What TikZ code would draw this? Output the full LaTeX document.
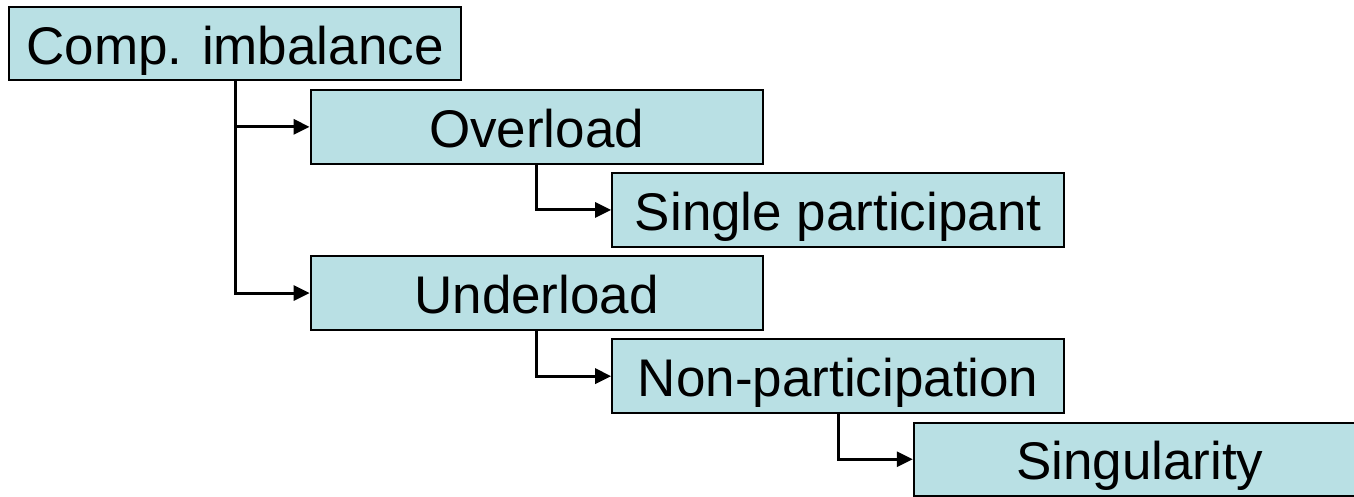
\documentclass[tikz,border=0pt]{standalone}
\usepackage{fontspec}
\setmainfont{Liberation Sans}
\usetikzlibrary{positioning,arrows.meta}
\definecolor{boxfill}{RGB}{185,224,228}
\tikzset{every node/.style={shape=rectangle,draw = black,line width=1pt,fill=boxfill,
  minimum width=226pt,minimum height=36.75pt,inner sep=0pt,
  font=\fontsize{26.5}{30}\selectfont,text height=24pt,text depth=3.5pt}}
\tikzset{every edge/.style={draw = black, line width=1.5pt,
  -{Triangle[length=8pt,width=7.5pt]}, to path={|- (\tikztotarget)}}}

\begin{document}
\begin{tikzpicture}[node distance = 3.8pt]
  \useasboundingbox (0,0) rectangle (677pt,-248.5pt);
  \node (Imb) [anchor = north west] at (4pt,-3pt) {Comp. imbalance};
  \node (Over) [below right = 3.8pt and -76.2pt of Imb] {Overload};
  \node (Single) [below right = 3.8pt and -76.2pt of Over] {Single participant};
  \node (Under) [below = 45.35pt of Over] {Underload};
  \node (NonPart) [below right = 3.8pt and -76.2pt of Under] {Non-participation};
  \node (Sing) [below right = 3.8pt and -76.2pt of NonPart] {Singularity};

  \path (Imb.south) edge (Over.west);
  \path (Imb.south) edge (Under.west);

  \path (Over.south) edge (Single.west);

  \path (Under.south) edge (NonPart.west);

  \path (NonPart.south) edge (Sing.west);
\end{tikzpicture}
\end{document}
